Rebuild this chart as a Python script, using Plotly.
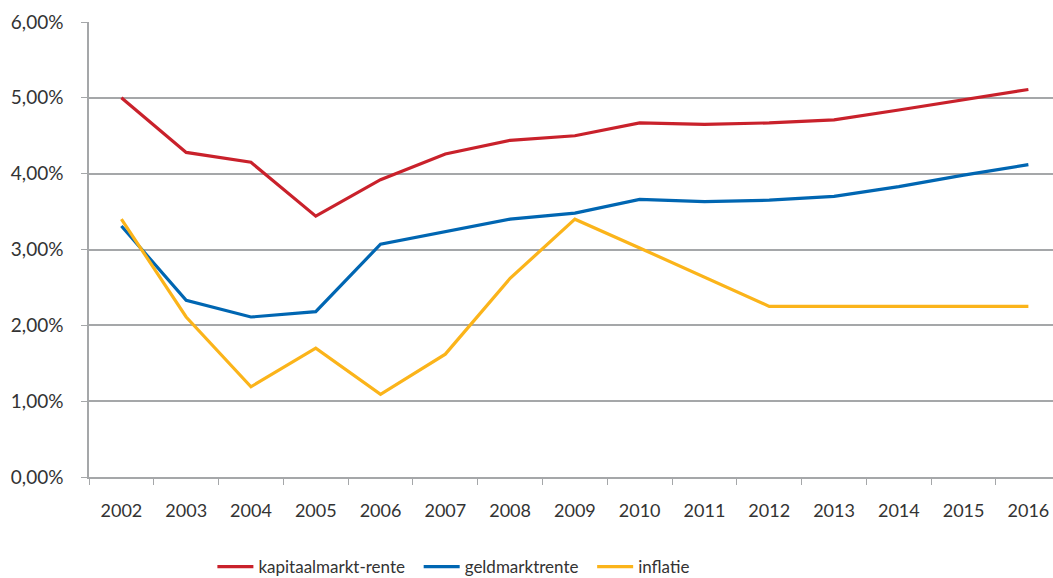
import plotly.graph_objects as go

years = ["2002", "2003", "2004", "2005", "2006", "2007", "2008", "2009",
         "2010", "2011", "2012", "2013", "2014", "2015", "2016"]
kapitaalmarkt = [5.00, 4.28, 4.15, 3.44, 3.92, 4.26, 4.44, 4.50,
                 4.67, 4.65, 4.67, 4.71, 4.84, 4.98, 5.11]
geldmarkt = [3.31, 2.33, 2.11, 2.18, 3.07, 3.23, 3.40, 3.48,
             3.66, 3.63, 3.65, 3.70, 3.83, 3.98, 4.12]
inflatie = [3.40, 2.11, 1.19, 1.70, 1.09, 1.62, 2.62, 3.40,
            3.02, 2.63, 2.25, 2.25, 2.25, 2.25, 2.25]
y_ticks = [0, 1, 2, 3, 4, 5, 6]
y_labels = ["0,00%", "1,00%", "2,00%", "3,00%", "4,00%", "5,00%", "6,00%"]

names = ["kapitaalmarkt-rente", "geldmarktrente", "inflatie"]
colors = ["#C9212B", "#0066B2", "#FBB41A"]
series = [kapitaalmarkt, geldmarkt, inflatie]

FONT = "Lato"
GRID = "#A5A7A9"
PAD = "\u00a0\u00a0"

fig = go.Figure()
for i, (name, vals, col) in enumerate(zip(names, series, colors)):
    label = name + (PAD if i < len(names) - 1 else "")
    fig.add_trace(go.Scatter(x=years, y=[v / 100 for v in vals], name=label,
                             mode="lines", line=dict(color=col, width=3.2)))

fig.update_layout(
    width=1053, height=578,
    margin=dict(l=89, r=0, t=22, b=101, autoexpand=False),
    plot_bgcolor="white", paper_bgcolor="white",
    font=dict(family=FONT, color="#404040"),
    showlegend=True,
    legend=dict(orientation="h", x=0.128, xanchor="left", y=-0.198,
                yanchor="middle", font=dict(size=17, color="#333333", family=FONT),
                itemwidth=36, tracegroupgap=0),
    xaxis=dict(type="category", range=[-0.5, 14.38], tickson="boundaries",
               ticks="outside", ticklen=6, tickcolor=GRID, showgrid=False,
               showline=True, linecolor=GRID, linewidth=1.5, automargin=False,
               tickfont=dict(size=18, family=FONT, color="#333333"),
               ticklabelstandoff=17, zeroline=False),
    yaxis=dict(range=[0, 0.06], tickvals=[v / 100 for v in y_ticks], ticktext=y_labels,
               ticks="outside", ticklen=6, tickcolor=GRID, showgrid=True,
               gridcolor=GRID, gridwidth=1.5, showline=True, linecolor=GRID,
               linewidth=1.5, zeroline=False, automargin=False,
               tickfont=dict(size=19, family=FONT, color="#333333"),
               ticklabelstandoff=14),
)

fig.write_html("out.html", config={"displayModeBar": False},
               post_script="document.body.style.margin='0';document.body.style.overflow='hidden';")
